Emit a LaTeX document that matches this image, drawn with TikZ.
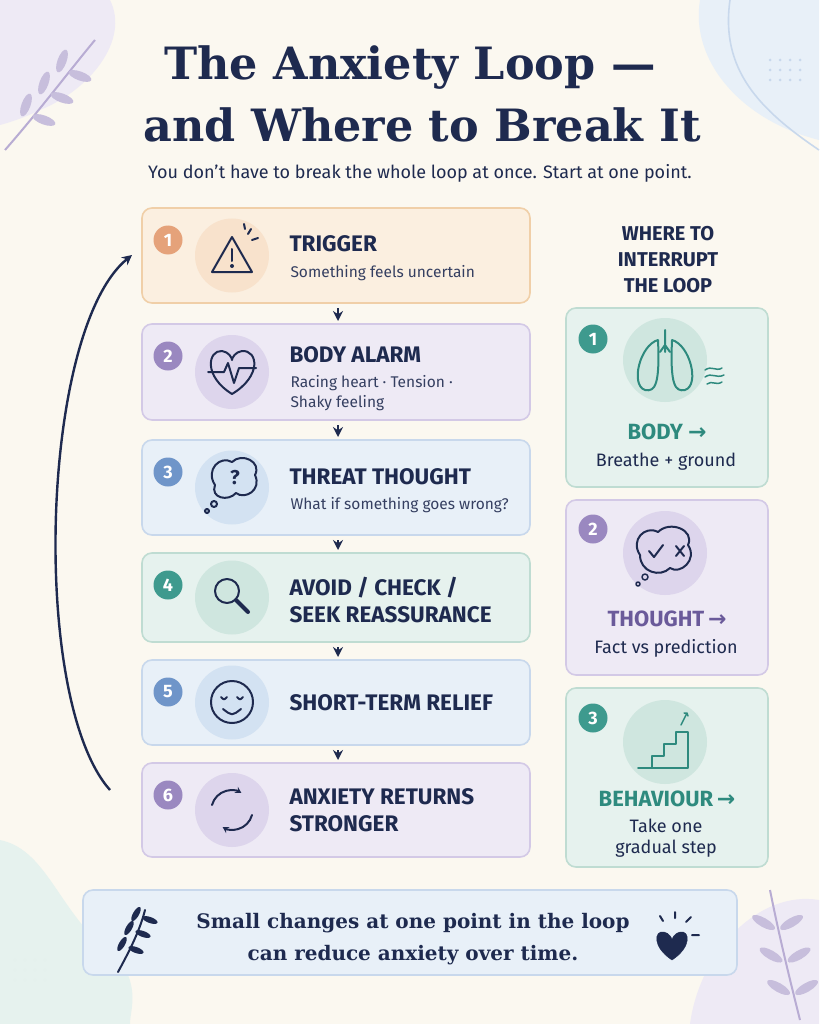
\documentclass[tikz,border=0pt]{standalone}
\usepackage{fontspec}
\setmainfont{DejaVu Serif}
\setsansfont{Fira Sans}
\newfontfamily\sym{DejaVu Sans}
\usetikzlibrary{arrows.meta,calc}
\definecolor{bg}{HTML}{FBF8F0}
\definecolor{navy}{HTML}{1E2A4F}
\definecolor{oF}{HTML}{FBEFE0}\definecolor{oB}{HTML}{F0CFA8}\definecolor{oC}{HTML}{E5A27A}\definecolor{oI}{HTML}{F8E2CC}
\definecolor{pF}{HTML}{EEEAF5}\definecolor{pB}{HTML}{D3C9E6}\definecolor{pC}{HTML}{9A88C0}\definecolor{pI}{HTML}{DDD5EC}
\definecolor{bF}{HTML}{E8F0F8}\definecolor{bB}{HTML}{C8D8EC}\definecolor{bC}{HTML}{6F95C9}\definecolor{bI}{HTML}{D3E2F2}
\definecolor{gF}{HTML}{E6F2EE}\definecolor{gB}{HTML}{BFDCD2}\definecolor{gC}{HTML}{3E9A8E}\definecolor{gI}{HTML}{CFE6DF}
\definecolor{teal}{HTML}{2E8A7E}\definecolor{purp}{HTML}{6A5A9A}
\tikzset{x=1pt,y=-1pt,
 box/.style={draw=#1,line width=1.6pt,rounded corners=10pt},
 num/.style={circle,fill=#1,text=white,font=\sffamily\bfseries\fontsize{18}{18}\selectfont,minimum size=29pt,inner sep=0},
 head/.style={anchor=west,text=navy,font=\sffamily\bfseries\fontsize{22.5}{27}\selectfont,align=left},
 sub/.style={anchor=west,text=navy!90,font=\sffamily\fontsize{15.5}{20}\selectfont,align=left},
 ic/.style={draw=navy,line width=2pt,line cap=round,line join=round},
 flow/.style={navy,line width=2.4pt,-{Stealth[length=10pt,width=10pt]}},
 rh/.style={font=\sffamily\bfseries\fontsize{22}{22}\selectfont},
 rs/.style={text=navy,font=\sffamily\fontsize{18}{21}\selectfont,align=center},
 leaf/.style={fill=pC!55}}
\begin{document}
\begin{tikzpicture}
\fill[bg] (0,0) rectangle (819,1024);
\useasboundingbox (0,0) rectangle (819,1024);
% decorative blobs
\fill[pF] (0,0) -- (110,0) .. controls (130,40) and (90,90) .. (40,110) .. controls (20,120) and (0,125) .. (0,125) -- cycle;
\fill[bF] (819,0) -- (700,0) .. controls (690,60) and (740,120) .. (819,140) -- cycle;
\draw[bB,line width=1.6pt] (730,0) .. controls (720,70) and (760,110) .. (819,150);
\fill[gF] (0,1024) -- (0,840) .. controls (50,850) and (60,920) .. (120,960) .. controls (140,990) and (130,1010) .. (130,1024) -- cycle;
\fill[pF] (819,1024) -- (819,900) .. controls (760,890) and (700,950) .. (690,1024) -- cycle;
\foreach \i in {0,1,2,3}{\foreach \j in {0,1,2}{\fill[bB] (770+\i*10,60+\j*10) circle (1.5);\fill[white!60!gB] (15+\i*10,960+\j*10) circle (1.5);}}
\draw[pC!70,line width=2pt] (5,150) .. controls (40,110) and (70,70) .. (95,40);
\foreach \t in {0.3,0.5,0.7}{\fill[leaf] ($(5,150)!\t!(95,40)$) ++(12,3) ellipse [x radius=12,y radius=4.5,rotate=-20];
 \fill[leaf] ($(5,150)!\t!(95,40)$) ++(-6,-12) ellipse [x radius=4.5,y radius=12,rotate=-20];}
\draw[pC!70,line width=2pt] (800,1020) .. controls (790,980) and (780,940) .. (770,890);
\foreach \t in {0.25,0.5,0.75}{\fill[leaf] ($(800,1020)!\t!(770,890)$) ++(14,0) ellipse [x radius=13,y radius=4.5,rotate=30];
 \fill[leaf] ($(800,1020)!\t!(770,890)$) ++(-14,0) ellipse [x radius=13,y radius=4.5,rotate=-30];}
% title
\node[text=navy,font=\bfseries\fontsize{44.5}{48}\selectfont] (t1) at (410,68) {The Anxiety Loop —};
\node[text=navy,font=\bfseries\fontsize{44.5}{48}\selectfont] (t2) at (422,125) {and Where to Break It};
\node[text=navy,font=\sffamily\fontsize{18}{20}\selectfont] (st) at (420,173) {You don’t have to break the whole loop at once. Start at one point.};
% left boxes
\foreach \n/\ya/\yb/\f/\b/\c/\ii in {1/208/303/oF/oB/oC/oI,2/324/420/pF/pB/pC/pI,3/440/535/bF/bB/bC/bI,4/553/642/gF/gB/gC/gI,5/660/745/bF/bB/bC/bI,6/763/857/pF/pB/pC/pI}{
 \draw[box=\b,fill=\f] (142,\ya) rectangle (530,\yb);
 \node[num=\c] (n\n) at (168,\ya+32) {\n};
 \fill[\ii] (232,{(\ya+\yb)/2}) circle (37);
 \coordinate (L\n) at (338,\ya);\coordinate (R\n) at (338,\yb);}
\node[head] (h1) at (286,244) {TRIGGER};
\node[sub] (s1) at (287,273) {Something feels uncertain};
\node[head] (h2) at (286,355) {BODY ALARM};
\node[sub] (s2) at (287,393) {Racing heart · Tension ·\\Shaky feeling};
\node[head] (h3) at (286,477) {THREAT THOUGHT};
\node[sub] (s3) at (287,505) {What if something goes wrong?};
\node[head] (h4) at (286,600) {AVOID / CHECK /\\SEEK REASSURANCE};
\node[head] (h5) at (286,703) {SHORT-TERM RELIEF};
\node[head] (h6) at (286,810) {ANXIETY RETURNS\\STRONGER};
\foreach \a/\b in {1/2,2/3,3/4,4/5,5/6}{\draw[flow] ($(R\a)+(0,5)$) -- ($(L\b)+(0,-3)$);}
% loop arrow
\coordinate (la) at (110,790);\coordinate (lb) at (132,255);
\draw[flow] (la) .. controls (30,700) and (40,330) .. (lb);
% icons
\draw[ic] (232,237) -- (212,272) -- (252,272) -- cycle; \draw[ic] (232,249) -- (232,261); \fill[navy] (232,266) circle (2);
\draw[ic] (248,234)--(251,229) (252,240)--(258,238) (245,229)--(244,224);
\draw[ic] (232,394) .. controls (203,376) and (208,350) .. (222,351) .. controls (229,352) and (232,358) .. (232,360) .. controls (232,358) and (235,352) .. (242,351) .. controls (258,350) and (262,376) .. (232,394);
\draw[ic] (208,372) -- (224,372) -- (228,363) -- (234,383) -- (239,368) -- (256,368);
\draw[ic] (215,485) .. controls (205,470) and (220,455) .. (232,462) .. controls (242,452) and (262,462) .. (255,475) .. controls (262,490) and (245,500) .. (236,493) .. controls (228,502) and (210,498) .. (215,485);
\node[text=navy,font=\sffamily\bfseries\fontsize{20}{20}\selectfont] at (235,478) {?};
\draw[ic] (214,504) circle (3) (207,511) circle (2);
\draw[ic] (227,591) circle (12); \draw[ic,line width=4pt] (236,600) -- (248,612);
\draw[ic] (232,702) circle (21); \draw[ic] (221,697)..controls(224,700)..(227,697) (237,697)..controls(240,700)..(243,697) (223,709)..controls(232,716)..(241,709);
\draw[ic,-{Stealth[length=6pt,width=7pt]}] (212,805) arc (195:300:20);
\draw[ic,-{Stealth[length=6pt,width=7pt]}] (252,815) arc (15:120:20);
% right panel
\node[text=navy,font=\sffamily\bfseries\fontsize{20}{26}\selectfont,align=center] (rt) at (668,260) {WHERE TO\\INTERRUPT\\THE LOOP};
\draw[box=gB,fill=gF] (566,308) rectangle (768,487);
\draw[box=pB,fill=pF] (566,500) rectangle (768,675);
\draw[box=gB,fill=gF] (566,688) rectangle (768,867);
\node[num=gC] (m1) at (593,339) {1};\node[num=pC] (m2) at (593,529) {2};\node[num=gC] (m3) at (593,718) {3};
\fill[gI] (665,360) circle (42);\fill[pI] (665,553) circle (42);\fill[gI] (665,742) circle (42);
\draw[ic,draw=teal] (665,330)--(665,352) (665,345)--(660,352) (665,345)--(670,352);
\draw[ic,draw=teal] (658,340) .. controls (640,345) and (630,385) .. (645,390) .. controls (655,392) and (660,385) .. (658,340);
\draw[ic,draw=teal] (672,340) .. controls (690,345) and (700,385) .. (685,390) .. controls (675,392) and (670,385) .. (672,340);
\draw[ic,draw=teal,line width=1.5pt] (705,370)..controls(712,365)and(716,372)..(722,368) (705,377)..controls(712,372)and(716,379)..(724,375) (707,384)..controls(712,380)and(716,386)..(722,382);
\draw[ic] (640,555) .. controls (630,540) and (645,525) .. (658,532) .. controls (670,520) and (695,530) .. (688,545) .. controls (698,560) and (680,575) .. (670,568) .. controls (660,578) and (640,572) .. (640,555);
\draw[ic] (649,551)--(654,557)--(663,545) (676,546)--(684,556) (684,546)--(676,556);
\draw[ic,line width=1.5pt] (645,577) circle (3) (638,584) circle (2);
\draw[ic,draw=teal] (638,768)--(652,768)--(652,756)--(664,756)--(664,744)--(676,744)--(676,732)--(688,732)--(688,768)--(638,768);
\draw[ic,draw=teal,line width=1.5pt] (681,725)--(687,713) (684,713)--(687,713)--(688,716);
\node[rh,text=teal] (r1) at (667,432) {BODY \sym→};
\node[rs] (q1) at (666,462) {Breathe + ground};
\node[rh,text=purp] (r2) at (667,619) {THOUGHT\,\sym→};
\node[rs] (q2) at (666,648) {Fact vs prediction};
\node[rh,text=teal] (r3) at (667,799) {BEHAVIOUR\,\sym→};
\node[rs] (q3) at (666,838) {Take one\\gradual step};
% bottom banner
\draw[box=bB,fill=bF] (83,890) rectangle (737,975);
\node[text=navy,font=\bfseries\fontsize{20}{32}\selectfont,align=center] (bt) at (413,939) {Small changes at one point in the loop\\can reduce anxiety over time.};
\draw[ic] (118,972) .. controls (130,950) and (140,930) .. (145,910);
\foreach \p in {{(128,948)},{(135,932)},{(142,918)}}{\fill[navy] \p ++(8,2) ellipse [x radius=8,y radius=3,rotate=-20]; \fill[navy] \p ++(-6,-4) ellipse [x radius=3,y radius=8,rotate=-30];}
\draw[navy,fill=navy] (672,960) .. controls (652,947) and (654,930) .. (664,932) .. controls (669,933) and (672,938) .. (672,940) .. controls (672,938) and (675,933) .. (680,932) .. controls (690,930) and (692,947) .. (672,960);
\draw[ic] (675,918)--(675,912) (686,922)--(691,917) (692,935)--(699,935) (663,921)--(660,916);
\end{tikzpicture}
\end{document}
